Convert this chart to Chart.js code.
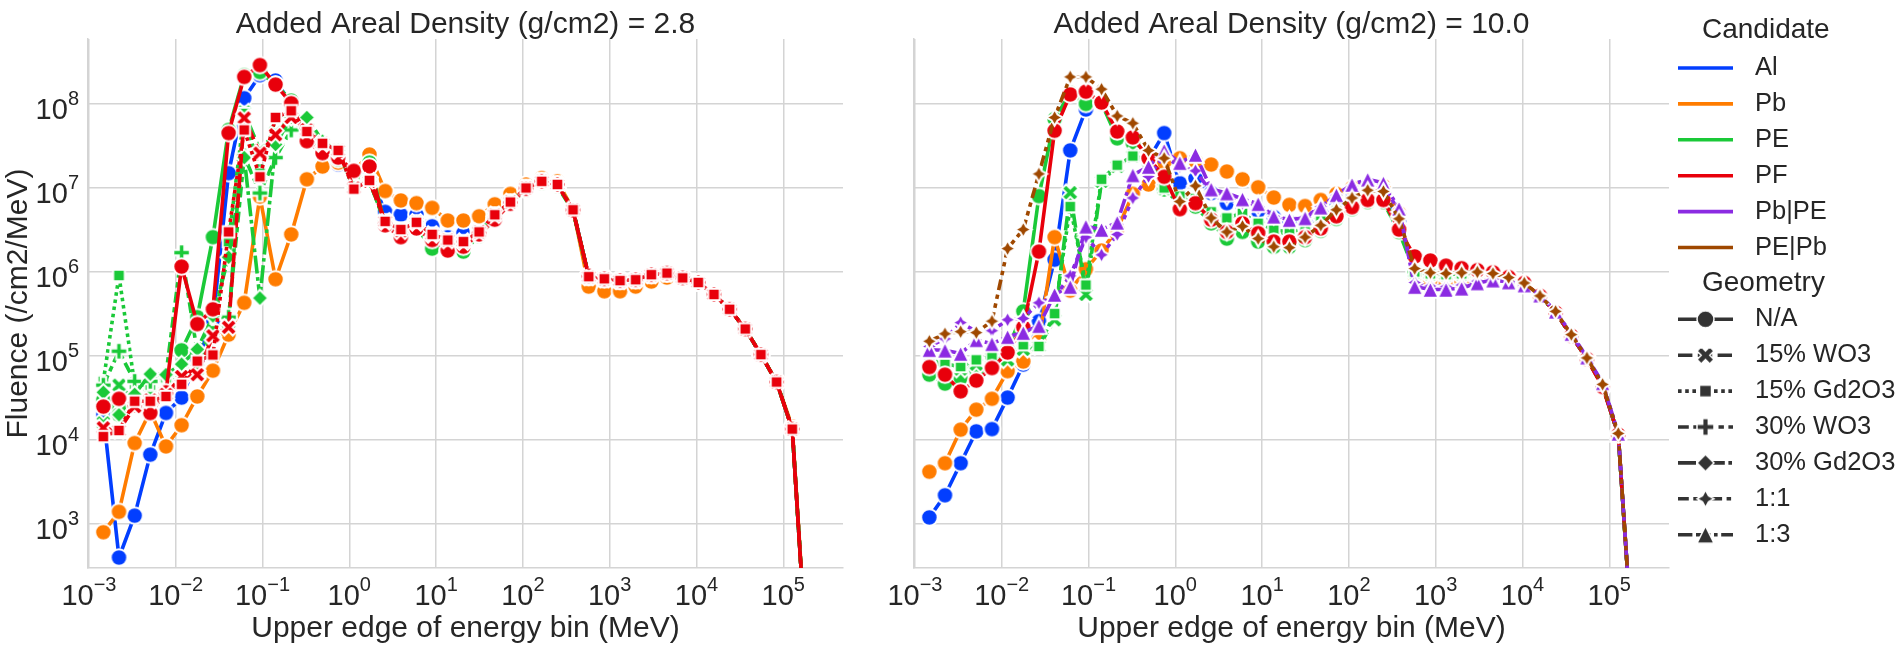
<!DOCTYPE html>
<html>
<head>
<meta charset="utf-8">
<script src="https://cdn.jsdelivr.net/npm/chart.js@4.4.1/dist/chart.umd.min.js"></script>
<style>
  body { margin: 0; background: #ffffff; }
  #lienzo { position: relative; width: 1903px; height: 645px; overflow: hidden; }
  canvas { position: absolute; top: 0; }
</style>
</head>
<body>
<div id="lienzo">
  <canvas id="graficoIzq" width="880" height="645" style="left:0px"></canvas>
  <canvas id="graficoDer" width="1023" height="645" style="left:880px"></canvas>
</div>
<script>
// energia superior de cada bin (MeV)
const energiaMeV = [1.466e-3, 2.220e-3, 3.363e-3, 5.095e-3, 7.720e-3, 1.169e-2, 1.771e-2, 2.684e-2, 4.066e-2, 6.160e-2,
    9.333e-2, 0.1414, 0.2142, 0.3245, 0.4917, 0.7447, 1.128, 1.709, 2.589, 3.923,
    5.943, 9.004, 13.64, 20.66, 31.30, 47.42, 71.85, 108.8, 164.9, 249.8,
    378.4, 573.3, 868.6, 1316, 1993, 3020, 4575, 6931, 10500, 15910,
    24100, 36510, 55320, 83810, 1.270e5, 1.923e5];

const ticksX = [1e-3, 1e-2, 1e-1, 1e0, 1e1, 1e2, 1e3, 1e4, 1e5];
const ticksY = [1e3, 1e4, 1e5, 1e6, 1e7, 1e8];

const candidatos = ['Al', 'Pb', 'PE', 'PF', 'Pb|PE', 'PE|Pb'];
const geometrias = ['N/A', '15% WO3', '15% Gd2O3', '30% WO3', '30% Gd2O3', '1:1', '1:3'];

// ---- Added Areal Density = 2.8 ----
const colaIzq = [8.3e5, 7.9e5, 8.1e5, 9.3e5, 9.7e5, 8.5e5, 7.5e5, 5.4e5, 3.6e5, 2.1e5, 1.04e5, 4.9e4, 1.35e4, 15];

const alIzq = [2.0e4, 4.0e2, 1.26e3, 6.7e3, 2.1e4, 3.2e4, 9.0e4, 2.6e5, 1.5e7, 1.17e8,
    2.2e8, 1.9e8, 1.0e8, 4.5e7, 2.6e7, 1.9e7, 1.35e7, 1.5e7, 5.2e6, 4.8e6,
    4.8e6, 3.5e6, 2.6e6, 2.9e6, 3.2e6, 5.0e6, 7.0e6, 1.0e7, 1.2e7, 1.1e7,
    5.5e6, 9.0e5];
const pbIzq = [8.0e2, 1.4e3, 9.2e3, 2.2e4, 8.4e3, 1.5e4, 3.3e4, 6.7e4, 1.8e5, 4.3e5,
    7.9e6, 8.2e5, 2.8e6, 1.27e7, 1.8e7, 2.0e7, 1.6e7, 2.5e7, 9.2e6, 7.1e6,
    6.6e6, 5.8e6, 4.1e6, 4.1e6, 4.6e6, 6.4e6, 8.5e6, 1.1e7, 1.31e7, 1.2e7,
    5.6e6, 6.7e5];
const colaPbIzq = [5.9e5, 5.9e5, 6.7e5, 7.7e5, 8.6e5, 8.3e5, 7.5e5, 5.4e5, 3.6e5, 2.1e5, 1.05e5, 4.9e4, 1.45e4, 16];
const peIzq = [3.0e4, 2.0e4, 2.6e4, 2.6e4, 3.4e4, 1.17e5, 2.9e5, 2.6e6, 4.9e7, 2.2e8,
    2.4e8, 1.7e8, 1.1e8, 4.2e7, 2.7e7, 2.2e7, 1.45e7, 2.0e7, 3.6e6, 2.9e6,
    3.4e6, 1.9e6, 1.8e6, 1.75e6, 2.7e6, 4.3e6, 6.5e6, 9.5e6, 1.15e7, 1.05e7,
    5.3e6, 8.8e5];
const pe15WIzq = [1.6e4, 4.5e4, 3.0e4, 3.5e4, 4.5e4, 6.5e4, 7.0e4, 1.9e5, 2.5e5, 8.0e7,
    2.8e7, 4.6e7, 7.2e7, 5.0e7, 3.4e7, 2.8e7, 1.0e7, 1.2e7, 3.9e6, 3.1e6,
    3.8e6, 2.7e6, 2.3e6, 2.2e6, 2.9e6, 4.7e6, 6.7e6, 1.0e7, 1.2e7, 1.1e7,
    5.5e6, 8.8e5];
const pe15GIzq = [5.0e4, 9.1e5, 4.6e4, 4.5e4, 5.5e4, 7.0e4, 1.0e5, 2.0e5, 2.3e6, 7.7e7,
    1.5e7, 6.8e7, 8.0e7, 4.8e7, 3.4e7, 2.8e7, 9.8e6, 1.23e7, 4.0e6, 3.2e6,
    3.9e6, 2.8e6, 2.4e6, 2.3e6, 3.0e6, 4.8e6, 6.8e6, 1.0e7, 1.2e7, 1.1e7,
    5.5e6, 8.8e5];
const pe30WIzq = [4.5e4, 1.14e5, 5.0e4, 5.0e4, 6.0e4, 1.7e6, 1.1e5, 3.0e5, 2.9e5, 2.4e7,
    8.7e6, 2.3e7, 4.9e7, 5.5e7, 3.4e7, 2.8e7, 1.0e7, 1.2e7, 3.9e6, 3.1e6,
    3.8e6, 2.7e6, 2.3e6, 2.2e6, 2.9e6, 4.7e6, 6.7e6, 1.0e7, 1.2e7, 1.1e7,
    5.5e6, 8.8e5];
const pe30GIzq = [3.7e4, 2.0e4, 3.5e4, 6.1e4, 6.0e4, 8.0e4, 1.2e5, 3.0e5, 1.5e6, 2.3e7,
    4.9e5, 3.3e7, 6.9e7, 6.9e7, 3.6e7, 2.8e7, 1.0e7, 1.2e7, 3.8e6, 3.0e6,
    3.7e6, 2.6e6, 2.2e6, 2.1e6, 2.8e6, 4.6e6, 6.6e6, 9.8e6, 1.2e7, 1.1e7,
    5.4e6, 8.8e5];
const pfIzq = [2.5e4, 3.1e4, 2.6e4, 2.1e4, 3.7e4, 1.16e6, 2.4e5, 3.6e5, 4.5e7, 2.1e8,
    2.9e8, 1.7e8, 1.02e8, 3.6e7, 2.6e7, 2.3e7, 1.6e7, 1.8e7, 3.6e6, 2.6e6,
    3.3e6, 2.4e6, 1.8e6, 2.0e6, 2.8e6, 4.2e6, 6.5e6, 9.8e6, 1.2e7, 1.1e7,
    5.4e6, 9.0e5];
const pf15WIzq = [1.4e4, 1.3e4, 2.5e4, 3.0e4, 3.5e4, 5.7e4, 6.0e4, 1.74e5, 2.2e5, 6.8e7,
    2.6e7, 4.3e7, 6.9e7, 4.9e7, 3.4e7, 2.8e7, 1.0e7, 1.2e7, 4.0e6, 3.1e6,
    3.9e6, 2.8e6, 2.4e6, 2.3e6, 3.0e6, 4.8e6, 6.8e6, 1.0e7, 1.2e7, 1.1e7,
    5.5e6, 8.8e5];
const pf15GIzq = [1.1e4, 1.3e4, 2.9e4, 2.9e4, 3.3e4, 4.6e4, 8.7e4, 1.03e5, 3.0e6, 4.9e7,
    1.36e7, 6.9e7, 8.3e7, 4.7e7, 3.4e7, 2.8e7, 9.7e6, 1.23e7, 4.0e6, 3.2e6,
    3.9e6, 2.8e6, 2.4e6, 2.3e6, 3.0e6, 4.8e6, 6.8e6, 1.0e7, 1.2e7, 1.1e7,
    5.5e6, 8.8e5];

// ---- Added Areal Density = 10.0 ----
const colaDer = [9.5e5, 9.3e5, 9.5e5, 9.8e5, 9.5e5, 8.5e5, 7.3e5, 5.2e5, 3.3e5, 1.75e5, 9.3e4, 4.4e4, 1.15e4, 20];

const alDer = [1.2e3, 2.2e3, 5.3e3, 1.27e4, 1.35e4, 3.2e4, 7.9e4, 2.6e5, 1.4e6, 2.8e7,
    8.6e7, 1.0e8, 4.5e7, 3.3e7, 2.2e7, 4.5e7, 1.14e7, 1.3e7, 8.7e6, 6.6e6,
    6.0e6, 5.3e6, 4.5e6, 3.9e6, 3.6e6, 4.6e6, 6.5e6, 8.0e6, 9.0e6, 8.5e6,
    4.0e6, 1.0e6];
const pbDer = [4.2e3, 5.3e3, 1.33e4, 2.3e4, 3.1e4, 6.6e4, 8.6e4, 1.5e5, 2.6e6, 6.0e5,
    1.08e6, 1.8e6, 3.2e6, 8.5e6, 1.1e7, 2.0e7, 2.26e7, 2.1e7, 1.9e7, 1.57e7,
    1.27e7, 1.02e7, 7.7e6, 6.3e6, 6.1e6, 7.2e6, 8.5e6, 1.0e7, 1.1e7, 1.05e7,
    5.0e6, 9.0e5, 7.6e5, 7.2e5, 7.6e5, 8.5e5, 9.0e5, 8.4e5, 7.3e5, 5.2e5,
    3.3e5, 1.75e5, 9.3e4, 4.4e4, 1.15e4, 20];
const peDer = [6.0e4, 4.7e4, 5.5e4, 6.5e4, 8.0e4, 1.2e5, 3.4e5, 8.0e6, 6.6e7, 1.35e8,
    1.0e8, 1.02e8, 3.9e7, 3.4e7, 2.4e7, 9.6e6, 6.5e6, 6.0e6, 3.8e6, 2.5e6,
    3.0e6, 2.3e6, 2.0e6, 2.0e6, 2.4e6, 3.1e6, 4.3e6, 5.6e6, 6.8e6, 6.8e6,
    3.0e6, 1.0e6];
const pe15WDer = [9.0e4, 8.5e4, 7.0e4, 8.0e4, 9.5e4, 9.0e4, 1.2e5, 1.3e5, 2.7e5, 8.8e6,
    5.4e5, 1.2e7, 1.8e7, 2.4e7, 2.1e7, 9.8e6, 7.5e6, 7.0e6, 4.8e6, 4.0e6,
    4.6e6, 3.5e6, 3.0e6, 2.8e6, 3.1e6, 3.9e6, 5.1e6, 6.4e6, 7.4e6, 7.2e6,
    3.3e6, 1.0e6];
const pe15GDer = [8.0e4, 8.0e4, 7.5e4, 9.0e4, 1.0e5, 1.05e5, 1.36e5, 1.3e5, 3.2e5, 6.0e6,
    7.0e5, 1.27e7, 1.87e7, 2.4e7, 2.2e7, 1.0e7, 8.0e6, 7.5e6, 5.2e6, 4.4e6,
    5.0e6, 3.8e6, 3.2e6, 3.0e6, 3.3e6, 4.1e6, 5.3e6, 6.6e6, 7.6e6, 7.4e6,
    3.4e6, 1.0e6];
const pfDer = [7.4e4, 6.0e4, 3.8e4, 5.1e4, 7.2e4, 1.1e5, 2.2e5, 1.75e6, 4.8e7, 1.3e8,
    1.4e8, 1.04e8, 4.7e7, 4.0e7, 2.26e7, 1.36e7, 5.6e6, 6.6e6, 4.2e6, 3.0e6,
    3.8e6, 2.9e6, 2.3e6, 2.3e6, 2.6e6, 3.3e6, 4.6e6, 5.9e6, 7.2e6, 7.2e6,
    3.2e6, 1.53e6, 1.37e6, 1.19e6, 1.11e6, 1.05e6, 9.9e5, 8.7e5, 7.4e5, 5.2e5,
    3.3e5, 1.74e5, 9.2e4, 4.3e4, 1.16e4, 20];
const pbpe11Der = [1.3e5, 1.6e5, 2.5e5, 1.95e5, 2.0e5, 2.7e5, 2.8e5, 4.3e5, 5.0e5, 9.0e5,
    2.6e6, 1.6e6, 2.8e6, 7.6e6, 1.37e7, 2.4e7, 1.8e7, 1.6e7, 9.0e6, 7.8e6,
    6.6e6, 5.8e6, 4.6e6, 4.2e6, 4.5e6, 6.0e6, 8.2e6, 1.05e7, 1.2e7, 1.1e7,
    5.2e6, 7.5e5, 6.8e5, 6.7e5, 7.0e5, 7.8e5, 8.2e5, 7.8e5, 7.1e5, 5.3e5,
    3.4e5, 1.8e5, 9.6e4, 4.7e4, 1.2e4, 20];
const pbpe13Der = [1.19e5, 1.17e5, 1.07e5, 1.56e5, 1.4e5, 1.7e5, 1.9e5, 2.3e5, 5.4e5, 6.7e5,
    3.5e6, 3.2e6, 3.9e6, 1.43e7, 1.8e7, 2.8e7, 2.0e7, 2.5e7, 9.7e6, 8.7e6,
    7.4e6, 6.5e6, 4.6e6, 4.2e6, 4.4e6, 5.9e6, 8.3e6, 1.1e7, 1.27e7, 1.15e7,
    5.7e6, 6.7e5, 6.2e5, 6.2e5, 6.4e5, 7.4e5, 8.0e5, 7.6e5, 7.0e5, 5.3e5,
    3.4e5, 1.85e5, 9.7e4, 4.8e4, 1.2e4, 20];
const pepb11Der = [1.5e5, 1.84e5, 1.95e5, 1.9e5, 2.6e5, 1.9e6, 3.2e6, 1.47e7, 6.9e7, 2.1e8,
    2.1e8, 1.5e8, 7.2e7, 5.9e7, 2.8e7, 2.26e7, 6.9e6, 1.06e7, 4.4e6, 3.0e6,
    3.5e6, 2.5e6, 2.0e6, 1.95e6, 2.6e6, 3.6e6, 5.5e6, 7.6e6, 9.4e6, 9.1e6,
    4.3e6, 1.1e6, 9.8e5, 9.6e5, 9.8e5, 1.0e6, 9.6e5, 8.6e5, 7.4e5, 5.2e5,
    3.4e5, 1.8e5, 9.5e4, 4.6e4, 1.2e4, 20];

const coloresCandidato = {
    'Al': '#023eff',
    'Pb': '#ff7c00',
    'PE': '#1ac938',
    'PF': '#e8000b',
    'Pb|PE': '#8b2be2',
    'PE|Pb': '#9f4800'
};
const formaGeometria = {
    'N/A': 'circle', '15% WO3': 'x', '15% Gd2O3': 'square', '30% WO3': 'plus',
    '30% Gd2O3': 'diamond', '1:1': 'star', '1:3': 'triangle'
};
// patrones de seaborn, en unidades de ancho de linea
const dashesGeometria = {
    'N/A': [], '15% WO3': [4, 1.5], '15% Gd2O3': [1, 1], '30% WO3': [3, 1.25, 1.5, 1.25],
    '30% Gd2O3': [5, 1, 1, 1], '1:1': [3, 1.25, 1.25, 1.25, 1.25, 1.25], '1:3': [4, 1, 4, 1, 1, 1]
};

const ANCHO_LINEA = 3.6;
const TAM_MARCADOR = 16.5;
const FUENTE = '"Liberation Sans", Arial, sans-serif';
const COLOR_TEXTO = '#262626';
const COLOR_GRILLA = '#d4d4d4';

const X_MIN = 9.76e-4, X_MAX = 4.88e5;
const Y_MIN = 300, Y_MAX = 5.93e8;

const cacheMarcadores = {};
function crearMarcador(forma, color, tam = TAM_MARCADOR, borde = 2) {
    const clave = forma + color + tam;
    if (cacheMarcadores[clave]) return cacheMarcadores[clave];
    const s = Math.ceil(tam + 6);
    const c = document.createElement('canvas');
    c.width = s; c.height = s;
    const ctx = c.getContext('2d');
    ctx.translate(s / 2, s / 2);
    const r = tam / 2;
    ctx.beginPath();
    if (forma === 'circle') {
        ctx.arc(0, 0, r, 0, Math.PI * 2);
    } else if (forma === 'square') {
        const h = r / Math.SQRT2;
        ctx.rect(-h, -h, 2 * h, 2 * h);
    } else if (forma === 'diamond') {
        ctx.moveTo(0, -r); ctx.lineTo(r, 0); ctx.lineTo(0, r); ctx.lineTo(-r, 0);
    } else if (forma === 'triangle') {
        ctx.moveTo(0, -r); ctx.lineTo(r, r); ctx.lineTo(-r, r);
    } else if (forma === 'star') {
        for (let k = 0; k < 8; k++) {
            const ang = -Math.PI / 2 + k * Math.PI / 4;
            const rr = k % 2 === 0 ? r : r * 0.5;
            if (k === 0) ctx.moveTo(rr * Math.cos(ang), rr * Math.sin(ang));
            else ctx.lineTo(rr * Math.cos(ang), rr * Math.sin(ang));
        }
    } else if (forma === 'plus') {
        const p = [[-1, -3], [1, -3], [1, -1], [3, -1], [3, 1], [1, 1], [1, 3], [-1, 3], [-1, 1], [-3, 1], [-3, -1], [-1, -1]];
        p.forEach((v, k) => { const px = v[0] * r / 3, py = v[1] * r / 3; k ? ctx.lineTo(px, py) : ctx.moveTo(px, py); });
    } else if (forma === 'x') {
        const p = [[-1, -2], [0, -1], [1, -2], [2, -1], [1, 0], [2, 1], [1, 2], [0, 1], [-1, 2], [-2, 1], [-1, 0], [-2, -1]];
        p.forEach((v, k) => { const px = v[0] * r / 2, py = v[1] * r / 2; k ? ctx.lineTo(px, py) : ctx.moveTo(px, py); });
    }
    ctx.closePath();
    ctx.fillStyle = color;
    ctx.fill();
    if (borde > 0) {
        ctx.strokeStyle = '#ffffff';
        ctx.lineWidth = borde;
        ctx.lineJoin = 'miter';
        ctx.stroke();
    }
    cacheMarcadores[clave] = c;
    return c;
}

function armarDatasets(series) {
    return series.map((s, idx) => ({
        label: s[0] + ' ' + s[1],
        data: energiaMeV.map((e, i) => ({ x: e, y: s[2][i] })),
        borderColor: coloresCandidato[s[0]],
        backgroundColor: coloresCandidato[s[0]],
        borderWidth: ANCHO_LINEA,
        borderDash: dashesGeometria[s[1]].map(d => d * ANCHO_LINEA),
        borderJoinStyle: 'round',
        borderCapStyle: 'butt',
        pointStyle: crearMarcador(formaGeometria[s[1]], coloresCandidato[s[0]]),
        pointRadius: 8,
        tension: 0,
        fill: false,
        order: -idx
    }));
}

const seriesIzq = [
    ['Al', 'N/A', [...alIzq, ...colaIzq]],
    ['Pb', 'N/A', [...pbIzq, ...colaPbIzq]],
    ['PE', 'N/A', [...peIzq, ...colaIzq]],
    ['PE', '15% WO3', [...pe15WIzq, ...colaIzq]],
    ['PE', '15% Gd2O3', [...pe15GIzq, ...colaIzq]],
    ['PE', '30% WO3', [...pe30WIzq, ...colaIzq]],
    ['PE', '30% Gd2O3', [...pe30GIzq, ...colaIzq]],
    ['PF', 'N/A', [...pfIzq, ...colaIzq]],
    ['PF', '15% WO3', [...pf15WIzq, ...colaIzq]],
    ['PF', '15% Gd2O3', [...pf15GIzq, ...colaIzq]]
];
const seriesDer = [
    ['Al', 'N/A', [...alDer, ...colaDer]],
    ['Pb', 'N/A', pbDer],
    ['PE', 'N/A', [...peDer, ...colaDer]],
    ['PE', '15% WO3', [...pe15WDer, ...colaDer]],
    ['PE', '15% Gd2O3', [...pe15GDer, ...colaDer]],
    ['PF', 'N/A', pfDer],
    ['Pb|PE', '1:1', pbpe11Der],
    ['Pb|PE', '1:3', pbpe13Der],
    ['PE|Pb', '1:1', pepb11Der]
];

function dibujarPotencia(ctx, exp, x, yBase, alinear) {
    ctx.font = '29px ' + FUENTE;
    const w10 = ctx.measureText('10').width;
    const sup = exp < 0 ? '\u2212' + (-exp) : String(exp);
    ctx.font = '20px ' + FUENTE;
    const wSup = ctx.measureText(sup).width;
    const x0 = alinear === 'center' ? x - (w10 + wSup) / 2 : x - (w10 + wSup);
    ctx.textAlign = 'left';
    ctx.textBaseline = 'alphabetic';
    ctx.font = '29px ' + FUENTE;
    ctx.fillText('10', x0, yBase);
    ctx.font = '20px ' + FUENTE;
    ctx.fillText(sup, x0 + w10, yBase - 14);
}

const textosPlugin = {
    id: 'textos',
    afterDraw(chart, args, opts) {
        const { ctx, chartArea, scales } = chart;
        const centro = (chartArea.left + chartArea.right) / 2;
        ctx.save();
        ctx.fillStyle = COLOR_TEXTO;
        ctx.textAlign = 'center';
        ctx.textBaseline = 'alphabetic';
        ctx.font = '30px ' + FUENTE;
        ctx.fillText(opts.titulo, centro, 33);
        ctx.fillText('Upper edge of energy bin (MeV)', centro, 637);
        ticksX.forEach(v => {
            dibujarPotencia(ctx, Math.round(Math.log10(v)), scales.x.getPixelForValue(v), 605, 'center');
        });
        if (opts.ejeY) {
            ticksY.forEach(v => {
                dibujarPotencia(ctx, Math.round(Math.log10(v)), chartArea.left - 9, scales.y.getPixelForValue(v) + 15, 'right');
            });
            ctx.save();
            ctx.translate(27, (chartArea.top + chartArea.bottom) / 2);
            ctx.rotate(-Math.PI / 2);
            ctx.textAlign = 'center';
            ctx.font = '30px ' + FUENTE;
            ctx.fillText('Fluence (/cm2/MeV)', 0, 0);
            ctx.restore();
        }
        ctx.restore();
    }
};

const leyendaPlugin = {
    id: 'leyenda',
    afterDraw(chart, args, opts) {
        if (!opts.mostrar) return;
        const ctx = chart.ctx;
        const off = 880;
        const xLinea0 = 1678 - off, xLinea1 = 1733 - off, xTexto = 1755 - off, xTitulo = 1702 - off;
        const paso = 35.9;
        ctx.save();
        ctx.textBaseline = 'middle';
        ctx.textAlign = 'left';
        ctx.fillStyle = COLOR_TEXTO;
        ctx.font = '28px ' + FUENTE;
        ctx.fillText('Candidate', xTitulo, 30);
        candidatos.forEach((cand, k) => {
            const y = 68 + paso * k;
            ctx.strokeStyle = coloresCandidato[cand];
            ctx.lineWidth = ANCHO_LINEA;
            ctx.setLineDash([]);
            ctx.beginPath(); ctx.moveTo(xLinea0, y); ctx.lineTo(xLinea1, y); ctx.stroke();
            ctx.font = '25.5px ' + FUENTE;
            ctx.fillText(cand, xTexto, y);
        });
        ctx.font = '28px ' + FUENTE;
        ctx.fillText('Geometry', xTitulo, 68 + paso * 6);
        geometrias.forEach((geo, k) => {
            const y = 68 + paso * (k + 7);
            ctx.strokeStyle = '#333333';
            ctx.lineWidth = ANCHO_LINEA;
            ctx.setLineDash(dashesGeometria[geo].map(d => d * ANCHO_LINEA));
            ctx.beginPath(); ctx.moveTo(xLinea0, y); ctx.lineTo(xLinea1, y); ctx.stroke();
            ctx.setLineDash([]);
            const m = crearMarcador(formaGeometria[geo], '#333333', 17, 1.5);
            ctx.drawImage(m, (xLinea0 + xLinea1) / 2 - m.width / 2, y - m.height / 2);
            ctx.font = '25.5px ' + FUENTE;
            ctx.fillText(geo, xTexto, y);
        });
        ctx.restore();
    }
};

function opcionesPanel(titulo, ejeY, anchoCanvas, izquierda, derecha, mostrarLeyenda) {
    const soloDecadas = lista => (scale) => { scale.ticks = lista.map(v => ({ value: v })); };
    return {
        responsive: false,
        animation: false,
        layout: { padding: { top: 39, right: anchoCanvas - derecha, left: 0, bottom: 0 } },
        plugins: {
            legend: { display: false },
            tooltip: { enabled: false },
            textos: { titulo: titulo, ejeY: ejeY },
            leyenda: { mostrar: mostrarLeyenda }
        },
        scales: {
            x: {
                type: 'logarithmic',
                min: X_MIN, max: X_MAX,
                afterBuildTicks: soloDecadas(ticksX),
                afterFit: (s) => { s.height = 645 - 568; },
                ticks: { display: false },
                grid: { color: COLOR_GRILLA, lineWidth: 1.5, drawTicks: false },
                border: { display: true, color: COLOR_GRILLA, width: 1.5 }
            },
            y: {
                type: 'logarithmic',
                min: Y_MIN, max: Y_MAX,
                afterBuildTicks: soloDecadas(ticksY),
                afterFit: (s) => { s.width = izquierda; },
                ticks: { display: false },
                grid: { color: COLOR_GRILLA, lineWidth: 1.5, drawTicks: false },
                border: { display: true, color: COLOR_GRILLA, width: 1.5 }
            }
        }
    };
}

new Chart(document.getElementById('graficoIzq'), {
    type: 'line',
    data: { datasets: armarDatasets(seriesIzq) },
    options: opcionesPanel('Added Areal Density (g/cm2) = 2.8', true, 880, 88, 843, false),
    plugins: [textosPlugin, leyendaPlugin]
});

new Chart(document.getElementById('graficoDer'), {
    type: 'line',
    data: { datasets: armarDatasets(seriesDer) },
    options: opcionesPanel('Added Areal Density (g/cm2) = 10.0', false, 1023, 34, 789, true),
    plugins: [textosPlugin, leyendaPlugin]
});
</script>
</body>
</html>
